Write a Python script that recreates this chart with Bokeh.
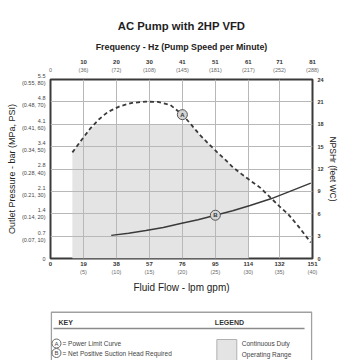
import numpy as np
from bokeh.plotting import figure
from bokeh.models import Range1d, LinearAxis, FixedTicker
from bokeh.layouts import column
from bokeh.embed import file_html
from bokeh.resources import INLINE
from bokeh.core.properties import value

FONT = "'Liberation Sans', Arial, sans-serif"

# ---------------- data ----------------
flow_ticks_lpm = [0, 19, 38, 57, 76, 95, 114, 132, 151]
flow_labels_lpm = ["0", "19", "38", "57", "76", "95", "114", "132", "151"]
flow_labels_gpm = ["", "(5)", "(10)", "(15)", "(20)", "(25)", "(30)", "(35)", "(40)"]
freq_labels_hz = ["", "10", "20", "30", "41", "51", "61", "71", "81"]
freq_labels_rpm = ["0", "(36)", "(72)", "(108)", "(145)", "(181)", "(217)", "(252)", "(288)"]
pressure_max_bar = 5.5
pressure_labels_bar = ["0", "0.7", "1.4", "2.1", "2.8", "3.4", "4.1", "4.8", "5.5"]
pressure_labels_mpa_psi = ["", "(0.07, 10)", "(0.14, 20)", "(0.21, 30)", "(0.28, 40)",
                           "(0.34, 50)", "(0.41, 60)", "(0.48, 70)", "(0.55, 80)"]
npsh_ticks_ft = [0, 3, 6, 9, 12, 15, 18, 21, 24]

# Power limit curve (A): flow lpm vs outlet pressure bar
power_flow = [12.6, 18, 23, 28, 33, 40, 47, 55, 62, 69, 76, 81, 86, 91, 96, 101,
              105, 110, 114, 121, 127, 132, 137, 143, 150]
power_bar = [3.26, 3.65, 4.00, 4.28, 4.50, 4.68, 4.78, 4.82, 4.81, 4.72, 4.42, 4.12,
             3.80, 3.53, 3.27, 3.02, 2.81, 2.60, 2.44, 2.17, 1.86, 1.60, 1.36, 0.98, 0.49]

# NPSHr curve (B): flow lpm vs feet WC
npsh_flow = [35, 45, 55, 65, 75, 85, 95, 105, 115, 127, 138, 150]
npsh_ft = [3.1, 3.4, 3.75, 4.15, 4.7, 5.2, 5.8, 6.4, 7.1, 8.0, 9.0, 10.1]

# Continuous duty operating range
duty_flow_min = 12.6
duty_flow_max = 114
duty_bar_max = 4.125

# Curve markers
marker_a_flow, marker_a_bar = [76], [4.42]
marker_b_flow, marker_b_ft = [95], [5.8]

# ---------------- main chart ----------------
ytick_pos = [float(v) for v in np.linspace(0, pressure_max_bar, len(pressure_labels_bar))]

p = figure(width=340, height=305, x_range=Range1d(0, flow_ticks_lpm[-1]),
           y_range=Range1d(0, pressure_max_bar), output_backend="svg",
           toolbar_location=None, min_border_left=50, min_border_right=27,
           min_border_top=79, min_border_bottom=47, title="AC Pump with 2HP VFD")
p.extra_y_ranges = {"npsh": Range1d(0, npsh_ticks_ft[-1])}
p.outline_line_color = "#3a3a3a"
p.outline_line_width = 2
p.background_fill_color = "white"
p.border_fill_color = "white"

p.title.align = "center"
p.title.text_font = FONT
p.title.text_font_size = "11.3px"
p.title.text_font_style = "bold"
p.title.text_color = "#1e1e1e"
p.title.standoff = 14


def style_axis(ax, size="6px", bold=True, color="#333333"):
    ax.axis_line_color = None
    ax.major_tick_line_color = None
    ax.minor_tick_line_color = None
    ax.major_tick_out = 0
    ax.major_tick_in = 0
    ax.minor_tick_out = 0
    ax.minor_tick_in = 0
    ax.major_label_text_font = FONT
    ax.major_label_text_font_size = size
    ax.major_label_text_font_style = "bold" if bold else "normal"
    ax.major_label_text_color = color
    ax.axis_label_text_font = FONT
    ax.axis_label_text_font_style = "normal"
    ax.axis_label_text_color = "#222222"


SUB_COLOR = "#6a6a6a"

# bottom: lpm (inner) + gpm (outer)
xb = p.xaxis[0]
xb.ticker = FixedTicker(ticks=flow_ticks_lpm)
xb.major_label_overrides = {t: s for t, s in zip(flow_ticks_lpm, flow_labels_lpm)}
style_axis(xb)
xb.major_label_standoff = 3

xb2 = LinearAxis(ticker=FixedTicker(ticks=flow_ticks_lpm), axis_label="Fluid Flow - lpm gpm)")
xb2.major_label_overrides = {t: s for t, s in zip(flow_ticks_lpm, flow_labels_gpm)}
style_axis(xb2, size="5.5px", bold=False, color=SUB_COLOR)
xb2.major_label_standoff = 0
xb2.axis_label_standoff = 4
xb2.axis_label_text_font_size = "10px"
p.add_layout(xb2, "below")

# left: bar with (MPa, PSI) underneath
yl = p.yaxis[0]
yl.ticker = FixedTicker(ticks=ytick_pos)
yl.major_label_overrides = {
    t: (b if not s else b + "\n" + s)
    for t, b, s in zip(ytick_pos, pressure_labels_bar, pressure_labels_mpa_psi)}
yl.axis_label = "Outlet Pressure - bar (MPa, PSI)"
style_axis(yl, size="5.5px", bold=False, color="#444444")
yl.major_label_standoff = 5
yl.axis_label_standoff = 2
yl.axis_label_text_font_size = "9px"

# top: rpm (inner) + Hz (outer)
xt_sub = LinearAxis(ticker=FixedTicker(ticks=flow_ticks_lpm))
xt_sub.major_label_overrides = {t: s for t, s in zip(flow_ticks_lpm, freq_labels_rpm)}
style_axis(xt_sub, size="5.5px", bold=False, color=SUB_COLOR)
xt_sub.major_label_standoff = 7
p.add_layout(xt_sub, "above")

xt = LinearAxis(ticker=FixedTicker(ticks=flow_ticks_lpm),
                axis_label="Frequency - Hz (Pump Speed per Minute)")
xt.major_label_overrides = {t: s for t, s in zip(flow_ticks_lpm, freq_labels_hz)}
style_axis(xt)
xt.major_label_standoff = 0
xt.axis_label_standoff = 5
xt.axis_label_text_font_size = "8.8px"
xt.axis_label_text_font_style = "bold"
p.add_layout(xt, "above")

# right: NPSHr
yr = LinearAxis(y_range_name="npsh", ticker=FixedTicker(ticks=npsh_ticks_ft),
                axis_label="NPSHr (feet WC)")
style_axis(yr, size="5.5px")
yr.major_label_standoff = 5
yr.axis_label_standoff = 1
yr.axis_label_text_font_size = "8.5px"
p.add_layout(yr, "right")

for g in p.grid:
    g.grid_line_color = "#b8b8b8"
    g.grid_line_width = 1

# operating range shading
pf = np.array(power_flow)
pb = np.array(power_bar)
sel = (pf >= duty_flow_min) & (pf <= duty_flow_max)
p.varea(x=pf[sel], y1=0, y2=np.minimum(pb[sel], duty_bar_max),
        fill_color="#e4e4e4", level="image")

# curves
p.line(power_flow, power_bar, line_color="#3a3a3a", line_width=1.8, line_dash="4 3")
p.line(npsh_flow, npsh_ft, y_range_name="npsh", line_color="#3a3a3a", line_width=1.5)

# markers
p.scatter(marker_a_flow, marker_a_bar, size=10, fill_color="#d4d4d4", line_color="#555555",
          line_width=1)
p.text(marker_a_flow, marker_a_bar, text=["A"], text_font=value(FONT), text_font_size="6px",
       text_font_style="bold", text_align="center", text_baseline="middle", text_color="#333333")
p.scatter(marker_b_flow, marker_b_ft, y_range_name="npsh", size=10, fill_color="#d4d4d4",
          line_color="#555555", line_width=1)
p.text(marker_b_flow, marker_b_ft, y_range_name="npsh", text=["B"], text_font=value(FONT),
       text_font_size="6px", text_font_style="bold", text_align="center",
       text_baseline="middle", text_color="#333333")

# ---------------- key / legend panel (page-pixel coordinates) ----------------
q = figure(width=340, height=55, x_range=Range1d(50, 313), y_range=Range1d(55, 0),
           output_backend="svg", toolbar_location=None, min_border_left=50,
           min_border_right=27, min_border_top=0, min_border_bottom=0,
           x_axis_location=None, y_axis_location=None)
q.grid.visible = False
q.outline_line_color = None
q.background_fill_color = "white"
q.border_fill_color = "white"

q.quad(left=[50.8], right=[312.2], top=[6.7], bottom=[62], fill_color=None,
       line_color="#a0a0a0", line_width=1.5)
q.line([53, 305], [23, 23], line_color="#8a8a8a", line_width=1.5)
q.text([58, 215], [17, 17], text=["KEY", "LEGEND"], text_font=value(FONT),
       text_font_size="7px", text_font_style="bold", text_baseline="middle",
       text_color="#333333")
q.scatter([56, 56], [38, 47.5], size=9, fill_color="white", line_color="#666666", line_width=1)
q.text([56, 56], [38, 47.5], text=["A", "B"], text_font=value(FONT), text_font_size="6px",
       text_align="center", text_baseline="middle", text_color="#444444")
q.text([62, 62], [38, 47.5], text=["= Power Limit Curve", "= Net Positive Suction Head Required"],
       text_font=value(FONT), text_font_size="6.5px", text_baseline="middle",
       text_color="#444444")
q.quad(left=[217], right=[237], top=[34], bottom=[58], fill_color="#e4e4e4",
       line_color="#b0b0b0", line_width=1)
q.text([242, 242], [38, 49], text=["Continuous Duty", "Operating Range"],
       text_font=value(FONT), text_font_size="6.5px", text_baseline="middle",
       text_color="#444444")

layout = column(p, q, spacing=0)
open("out.html", "w").write(file_html(layout, INLINE))
